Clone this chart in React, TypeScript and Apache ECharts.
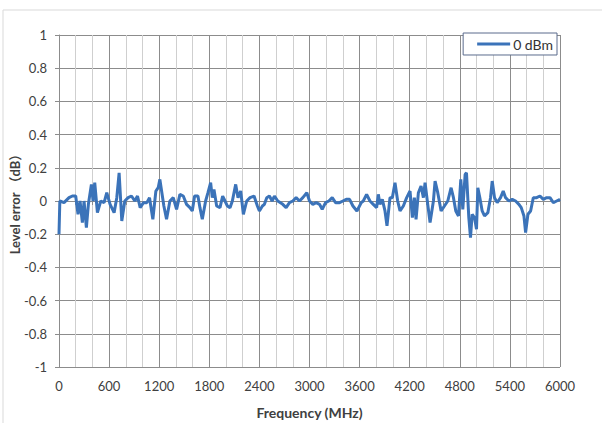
import React, { useEffect, useRef } from "react";
import * as echarts from "echarts";

const seriesName = "0 dBm";
const xTicks = [0, 600, 1200, 1800, 2400, 3000, 3600, 4200, 4800, 5400, 6000];
const freqMHz = [
  0, 10, 60, 120, 160, 200, 228, 252, 280, 300, 328, 352, 388, 408, 428, 460, 500, 540, 572, 612,
  660, 692, 720, 752, 788, 828, 868, 908, 940, 972, 1012, 1052, 1084, 1124, 1160, 1188, 1208, 1256, 1288, 1328,
  1368, 1408, 1448, 1488, 1528, 1568, 1596, 1624, 1664, 1688, 1716, 1756, 1784, 1816, 1836, 1856, 1888, 1928, 1960, 1988,
  2016, 2048, 2076, 2116, 2144, 2176, 2208, 2248, 2288, 2336, 2376, 2400, 2436, 2460, 2488, 2520, 2552, 2580, 2620, 2680,
  2720, 2760, 2800, 2840, 2880, 2920, 2968, 3000, 3040, 3080, 3120, 3152, 3192, 3232, 3272, 3312, 3360, 3400, 3440, 3480,
  3520, 3568, 3620, 3644, 3684, 3724, 3764, 3804, 3824, 3844, 3872, 3904, 3928, 3964, 3992, 4024, 4056, 4084, 4124, 4164,
  4204, 4232, 4256, 4276, 4304, 4336, 4364, 4384, 4416, 4444, 4484, 4504, 4536, 4576, 4616, 4656, 4696, 4724, 4752, 4784,
  4812, 4836, 4864, 4880, 4908, 4928, 4948, 4976, 5000, 5016, 5040, 5068, 5096, 5136, 5168, 5188, 5216, 5248, 5288, 5320,
  5348, 5388, 5428, 5468, 5508, 5536, 5568, 5588, 5616, 5648, 5680, 5720, 5760, 5800, 5840, 5880, 5920, 5960, 6000,
];
const levelErrorDb = [
  -0.2, 0.0, -0.01, 0.02, 0.03, 0.03, -0.08, 0.0, -0.13, 0.0, -0.16, -0.02, 0.1, 0.0, 0.11, -0.07, 0.0, -0.01, 0.05, -0.02,
  -0.07, 0.02, 0.17, -0.12, 0.0, 0.02, 0.03, 0.0, 0.03, -0.04, -0.01, -0.01, 0.02, -0.11, 0.06, 0.08, 0.13, -0.03, -0.11, 0.0,
  0.02, -0.05, 0.04, 0.03, -0.02, -0.04, -0.06, 0.03, 0.03, -0.04, -0.11, 0.0, 0.05, 0.11, 0.02, 0.07, -0.03, -0.04, 0.03, 0.0,
  -0.03, -0.04, 0.0, 0.1, 0.02, 0.06, -0.08, 0.0, 0.02, 0.03, -0.03, -0.06, -0.03, -0.02, 0.02, 0.03, 0.0, 0.03, 0.0, -0.02,
  -0.04, -0.01, 0.0, 0.02, 0.0, 0.02, 0.05, 0.0, -0.02, -0.01, -0.02, -0.05, -0.01, 0.0, 0.02, -0.01, -0.01, 0.0, 0.01, 0.01,
  -0.03, -0.06, -0.01, 0.0, 0.04, 0.0, -0.02, -0.04, 0.04, -0.02, 0.01, -0.06, -0.15, 0.02, 0.02, 0.11, 0.0, -0.06, -0.03, 0.02,
  0.06, -0.1, 0.02, -0.11, 0.05, 0.09, 0.02, 0.11, -0.02, -0.13, 0.0, 0.12, 0.05, -0.06, -0.03, 0.0, 0.08, 0.02, -0.06, -0.09,
  0.13, -0.05, 0.16, 0.17, -0.1, -0.22, -0.08, -0.1, -0.17, 0.08, 0.02, -0.06, -0.09, -0.07, 0.02, 0.12, 0.02, -0.01, 0.02, 0.06,
  0.02, 0.0, 0.01, 0.0, -0.02, -0.04, -0.09, -0.19, -0.08, -0.06, 0.02, 0.02, 0.03, 0.01, 0.02, 0.02, -0.01, 0.0, 0.01,
];

const FONT = "Lato, 'Noto Sans', 'Noto Sans CJK SC', sans-serif";

export default function App() {
  const ref = useRef<HTMLDivElement>(null);
  useEffect(() => {
    if (!ref.current) return;
    const chart = echarts.init(ref.current, null, { renderer: "svg" });
    const data = freqMHz.map((f, i) => [f, levelErrorDb[i]]);
    chart.setOption({
      animation: false,
      backgroundColor: "#ffffff",
      graphic: [
        {
          type: "rect",
          shape: { x: 3, y: 10, width: 610, height: 430 },
          style: { fill: "none", stroke: "#d9d9d9", lineWidth: 1 },
          silent: true,
        },
      ],
      grid: { left: 59, right: 42, top: 35, bottom: 56, outerBoundsMode: "none", containLabel: false },
      legend: {
        right: 45,
        top: 33,
        backgroundColor: "#ffffff",
        borderColor: "#5b6b8c",
        borderWidth: 1,
        padding: [4, 4, 4, 14],
        itemWidth: 33,
        itemHeight: 3,
        icon: "rect",
        itemGap: 0,
        textStyle: { fontFamily: FONT, fontSize: 14, color: "#333333", padding: [0, 0, 0, -2] },
        data: [seriesName],
      },
      xAxis: {
        type: "value",
        min: 0,
        max: 6000,
        interval: 600,
        name: "Frequency (MHz)",
        nameLocation: "middle",
        nameGap: 38,
        nameMoveOverlap: false,
        nameTextStyle: { fontFamily: FONT, fontSize: 14, fontWeight: "bold", color: "#404040" },
        axisLine: { show: true, lineStyle: { color: "#8c8c8c", width: 1 } },
        axisTick: { show: true, length: 4, lineStyle: { color: "#8c8c8c" } },
        minorTick: { show: true, splitNumber: 3, length: 4, lineStyle: { color: "#8c8c8c" } },
        axisLabel: {
          fontFamily: FONT,
          fontSize: 13,
          color: "#404040",
          margin: 12,
          formatter: (v: number) => (xTicks.includes(v) ? String(v) : ""),
        },
        splitLine: { show: true, lineStyle: { color: "#8c8c8c", width: 1 } },
        minorSplitLine: { show: true, lineStyle: { color: "#cfcfcf", width: 1 } },
      },
      yAxis: {
        type: "value",
        min: -1,
        max: 1,
        interval: 0.2,
        name: "Level error （dB）",
        nameLocation: "middle",
        nameGap: 38,
        nameMoveOverlap: false,
        nameTextStyle: { fontFamily: FONT, fontSize: 13, fontWeight: "bold", color: "#404040" },
        axisLine: { show: true, lineStyle: { color: "#8c8c8c", width: 1 } },
        axisTick: { show: true, length: 4, lineStyle: { color: "#8c8c8c" } },
        axisLabel: {
          fontFamily: FONT,
          fontSize: 13,
          color: "#404040",
          margin: 12,
          formatter: (v: number) => String(Math.round(v * 10) / 10),
        },
        splitLine: { show: true, lineStyle: { color: "#8c8c8c", width: 1 } },
      },
      series: [
        {
          name: seriesName,
          type: "line",
          data,
          showSymbol: false,
          symbol: "none",
          lineStyle: { color: "#3b73b9", width: 3 },
          itemStyle: { color: "#3b73b9" },
        },
      ],
    });
    return () => chart.dispose();
  }, []);
  return (
    <div
      ref={ref}
      style={{ position: "fixed", left: 0, top: 0, width: 602, height: 423 }}
    />
  );
}
